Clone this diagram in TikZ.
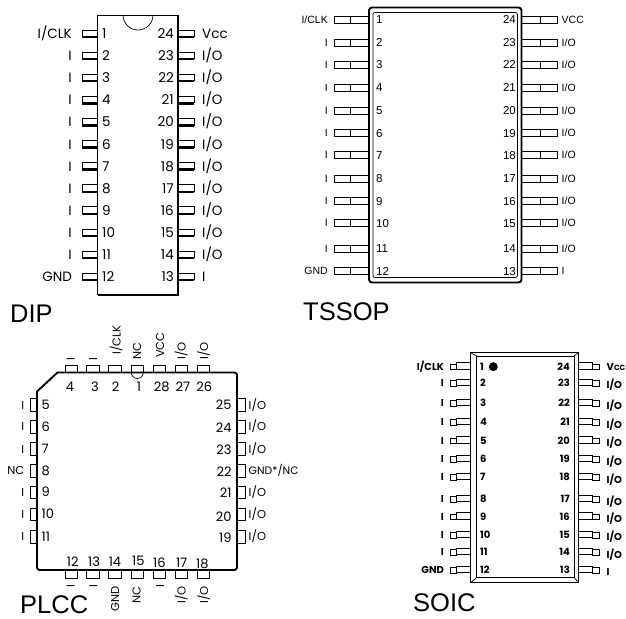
\documentclass[tikz,border=0pt]{standalone}
\usepackage{fontspec}
\usepackage{tikz}
\setmainfont{Liberation Sans}
\newfontfamily\roundfont{Poppins}
\usetikzlibrary{calc,positioning}

\begin{document}
\begin{tikzpicture}[
        x=1pt, y=-1pt,
        title/.style={inner sep=0pt, font=\fontsize{25.5}{26}\selectfont},
        diptext/.style={inner sep=0pt, font=\roundfont\fontsize{13.5}{14}\selectfont},
        tssoptext/.style={inner sep=0pt, font=\fontsize{10.5}{12}\selectfont},
        tssopnum/.style={inner sep=0pt, font=\fontsize{11.5}{12}\selectfont},
        plcctext/.style={inner sep=0pt, font=\roundfont\fontsize{11.5}{12}\selectfont},
        plccnum/.style={inner sep=0pt, font=\roundfont\fontsize{13}{14}\selectfont},
        soictext/.style={inner sep=0pt, font=\roundfont\bfseries\fontsize{10}{12}\selectfont},
        thinline/.style={draw=black, line width=0.7pt},
        thickline/.style={draw=black, line width=1.9pt}
    ]
    \useasboundingbox (0,0) rectangle (626,618);

    % DIP
    \draw[thinline] (97.5,295) -- (97.5,15) -- (178,15);
    \draw[thickline] (178,15) -- (178,295) -- (97.5,295);
    \draw[thinline] (123,15) arc (180:0:15);
    \foreach \n/\yy/\lab in {1/33.5/{I/CLK},2/55.6/I,3/77.7/I,4/99.8/I,5/121.9/I,6/144/I,7/166.1/I,8/188.2/I,9/210.3/I,10/232.4/I,11/254.5/I,12/276.6/GND} {
        \draw[thinline] (82,\yy-3.5) rectangle (97.5,\yy+3);
        \draw[thickline, line width=2.4pt] (82,\yy+3.5) -- (97.5,\yy+3.5);
        \node[diptext, anchor=base east] (dipL\n) at (72,\yy+5) {\lab};
        \node[diptext, anchor=base west] (dipN\n) at (102,\yy+5) {\n};
    }
    \foreach \n/\yy/\lab in {24/33.5/Vcc,23/55.6/{I/O},22/77.7/{I/O},21/99.8/{I/O},20/121.9/{I/O},19/144/{I/O},18/166.1/{I/O},17/188.2/{I/O},16/210.3/{I/O},15/232.4/{I/O},14/254.5/{I/O},13/276.6/I} {
        \draw[thinline] (178,\yy-3.5) rectangle (194,\yy+3);
        \draw[thickline, line width=2.4pt] (178,\yy+3.5) -- (194,\yy+3.5);
        \node[diptext, anchor=base west] (dipR\n) at (202,\yy+5) {\lab};
        \node[diptext, anchor=base east] (dipN\n) at (174,\yy+5) {\n};
    }
    \node[title, anchor=base west] (dipname) at (10,322) {DIP};

    % TSSOP
    \draw[thickline, rounded corners=3pt] (369,7.5) rectangle (521.5,282.5);
    \draw[thinline, rounded corners=2pt] (373,12.5) rectangle (517.5,277.5);
    \foreach \n/\m/\yy/\lab/\rab in {1/24/20/{I/CLK}/VCC,2/23/42.7/I/{I/O},3/22/64.7/I/{I/O},4/21/88/I/{I/O},5/20/110.7/I/{I/O},6/19/133.3/I/{I/O},7/18/155.3/I/{I/O},8/17/178.7/I/{I/O},9/16/201.3/I/{I/O},10/15/223.3/I/{I/O},11/14/248.7/I/{I/O},12/13/271.3/GND/I} {
        \draw[thinline] (369,\yy-3.5) -- (334,\yy-3.5) -- (334,\yy+3.5) -- (369,\yy+3.5);
        \draw[thinline] (350.5,\yy-3.5) -- (350.5,\yy+3.5);
        \draw[thinline] (521.5,\yy-3.5) -- (557.5,\yy-3.5) -- (557.5,\yy+3.5) -- (521.5,\yy+3.5);
        \draw[thinline] (540,\yy-3.5) -- (540,\yy+3.5);
        \node[tssoptext, anchor=base east] (tssopL\n) at (328,\yy+3.5) {\lab};
        \node[tssoptext, anchor=base west] (tssopR\m) at (561.5,\yy+3.5) {\rab};
        \node[tssopnum, anchor=base west] (tssopN\n) at (376,\yy+4) {\n};
        \node[tssopnum, anchor=base east] (tssopN\m) at (516,\yy+4) {\m};
    }
    \node[title, anchor=base west] (tssopname) at (303,320) {TSSOP};

    % PLCC
    \draw[thickline, line join=round] (37,391.5) -- (57.5,372.5) -- (235,372.5) -- (237,374.5) -- (237,568) -- (235,570) -- (39,570) -- (37,568) -- cycle;
    \draw[thinline] (131.3,372.5) arc (180:0:6);
    \foreach \n/\xx in {4/71.2,3/93,2/115,1/137.3,28/159.6,27/181.3,26/203.3} {
        \draw[thinline] (\xx-6.2,372.5) -- (\xx-6.2,365) -- (\xx+6.2,365) -- (\xx+6.2,372.5);
    }
    \foreach \n/\xx in {12/71.2,13/93,14/115,15/137.3,16/159.6,17/181.3,18/203.3} {
        \draw[thinline] (\xx-6.2,570) -- (\xx-6.2,578) -- (\xx+6.2,578) -- (\xx+6.2,570);
    }
    \foreach \n/\xx in {4/70,3/95,2/115.7,1/139,28/161.7,27/183,26/204.3} {
        \node[plccnum, anchor=base] (plccN\n) at (\xx,391.5) {\n};
    }
    \foreach \n/\xx/\yy in {12/72.7/566,13/94/566,14/115/566,15/138.3/565,16/159.3/567,17/181.7/567,18/202.3/568} {
        \node[plccnum, anchor=base] (plccN\n) at (\xx,\yy) {\n};
    }
    \foreach \n/\yy/\lab in {5/405/I,6/426.7/I,7/449/I,8/470.7/NC,9/492.3/I,10/514.3/I,11/536.7/I} {
        \draw[thinline] (37,\yy-6.2) -- (30,\yy-6.2) -- (30,\yy+6.2) -- (37,\yy+6.2);
        \node[plcctext, anchor=base east] (plccL\n) at (24.5,\yy+4) {\lab};
        \node[plccnum, anchor=base west] (plccN\n) at (41.5,\yy+4.5) {\n};
    }
    \foreach \n/\yy/\nyy/\lab in {25/405/405/{I/O},24/426.7/427.7/{I/O},23/449/450/{I/O},22/470.7/471.7/{\fontsize{10.8}{12}\selectfont GND*/NC},21/492.3/493.3/{I/O},20/514.3/516.7/{I/O},19/536.7/538.3/{I/O}} {
        \draw[thinline] (237,\yy-6.2) -- (245.3,\yy-6.2) -- (245.3,\yy+6.2) -- (237,\yy+6.2);
        \node[plcctext, anchor=base west] (plccR\n) at (248.5,\yy+4) {\lab};
        \node[plccnum, anchor=base east] (plccN\n) at (231.7,\nyy+4.5) {\n};
    }
    \foreach \n/\xx/\yy/\lab in {4/70.7/361/I,3/93/361/I,2/116.7/355/{I/CLK},1/137/360/NC,28/160/358/VCC,27/181.7/360/{I/O},26/204/360/{I/O}} {
        \node[plcctext, rotate=90, anchor=base west] (plccT\n) at (\xx+4,\yy) {\lab};
    }
    \foreach \n/\xx/\yy/\lab in {12/70.7/584/I,13/93.3/584/I,14/115/586/GND,15/136.7/586/NC,16/160/584/I,17/181.7/586/{I/O},18/204/586/{I/O}} {
        \node[plcctext, rotate=90, anchor=base east] (plccB\n) at (\xx+4,\yy) {\lab};
    }
    \node[title, anchor=base west] (plccname) at (20,613) {PLCC};

    % SOIC
    \draw[thickline, line width=1.1pt] (470.7,352.7) rectangle (578.5,582.7);
    \draw[thinline] (476.7,356) rectangle (574,577.3);
    \draw[thinline] (470.7,352.7) -- (476.7,356) (578.5,352.7) -- (574,356) (470.7,582.7) -- (476.7,577.3) (578.5,582.7) -- (574,577.3);
    \foreach \n/\yy/\lab in {1/366.7/{I/CLK},2/383.3/I,3/403.3/I,4/422.3/I,5/440.7/I,6/459.3/I,7/477.3/I,8/499.3/I,9/516.7/I,10/535/I,11/552.3/I,12/570/GND} {
        \draw[thinline] (450.7,\yy-2.5) rectangle (456.7,\yy+3);
        \draw[thinline] (470.7,\yy-4) -- (456.7,\yy-4) -- (456.7,\yy+2.5) -- (470.7,\yy+2.5);
        \node[soictext, anchor=base east] (soicL\n) at (444,\yy+3.5) {\lab};
        \node[soictext, anchor=base west] (soicN\n) at (480,\yy+3.5) {\n};
    }
    \foreach \n/\yy/\lyy/\lab in {24/366.7/366.7/{V{\fontsize{7.5}{8}\selectfont CC}},23/383.3/385/{I/O},22/403.3/406/{I/O},21/422.3/425/{I/O},20/440.7/443.3/{I/O},19/459.3/461.7/{I/O},18/477.3/480/{I/O},17/499.3/501.7/{I/O},16/516.7/519.3/{I/O},15/535/537.3/{I/O},14/552.3/555/{I/O},13/570/571.7/I} {
        \draw[thinline] (578.5,\yy-4) -- (592,\yy-4) -- (592,\yy+2.5) -- (578.5,\yy+2.5);
        \draw[thinline] (592,\yy-2.5) rectangle (599,\yy+3);
        \node[soictext, anchor=base west] (soicR\n) at (606.5,\lyy+3.5) {\lab};
        \node[soictext, anchor=base east] (soicN\n) at (570,\yy+3.5) {\n};
    }
    \fill (493.3,366.7) circle (4.5);
    \node[title, anchor=base west] (soicname) at (413,611) {SOIC};
\end{tikzpicture}
\end{document}
